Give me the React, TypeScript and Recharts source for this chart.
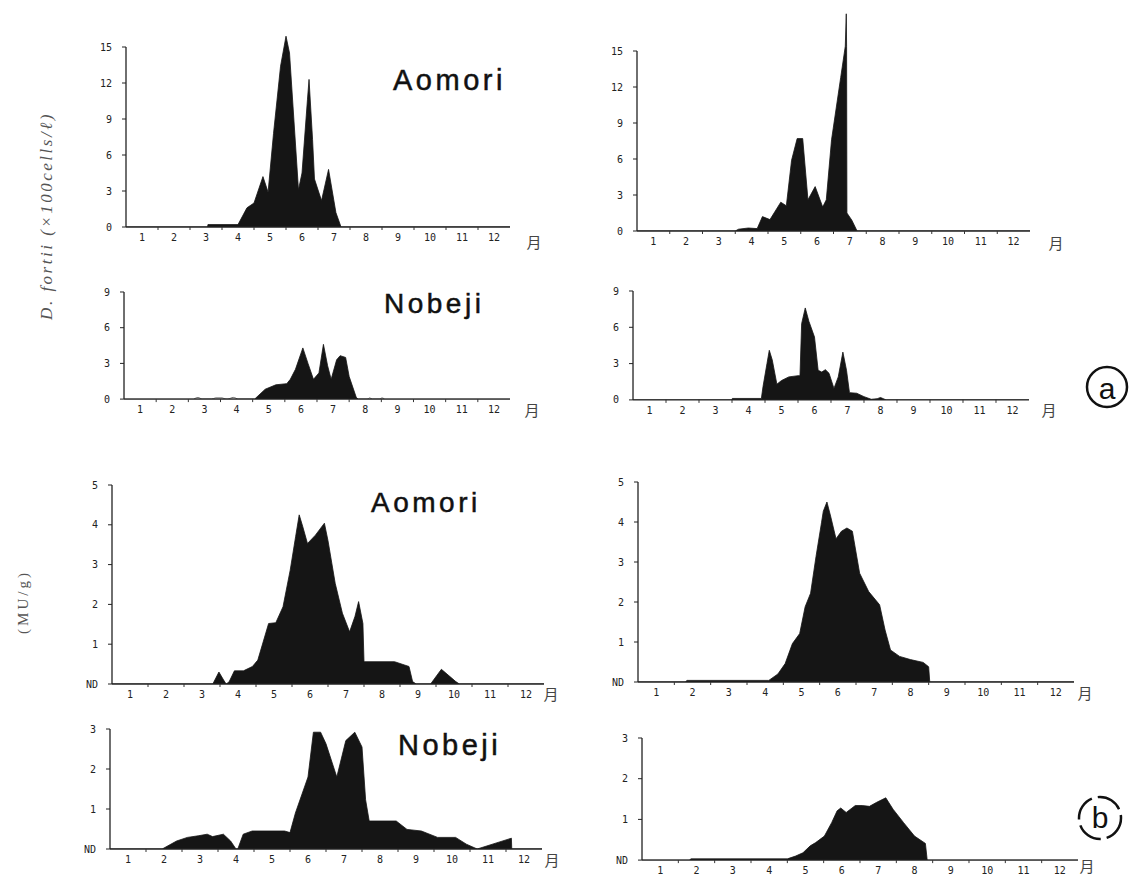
import React from 'react';
import { AreaChart, Area, XAxis, YAxis, ReferenceLine } from 'recharts';

// ---------- tick labels ----------
const monthLabels = ['1', '2', '3', '4', '5', '6', '7', '8', '9', '10', '11', '12'];
const cellTicksLarge = [0, 3, 6, 9, 12, 15];
const cellTicksSmall = [0, 3, 6, 9];
const toxTicks5 = [0, 1, 2, 3, 4, 5];
const toxTicks3 = [0, 1, 2, 3];

// ---------- (a) D. fortii cell density (x100 cells / l) ----------
// x = month position (label "m" sits at m), y = value
const aomoriCellsLeftX = [0.5, 3.05, 3.06, 4.0, 4.28, 4.5, 4.78, 4.94, 5.11, 5.33, 5.5, 5.61, 5.89, 6.0, 6.17, 6.22, 6.33, 6.39, 6.61, 6.83, 7.06, 7.22, 12.5];
const aomoriCellsLeftY = [0, 0, 0.2, 0.2, 1.6, 2.0, 4.2, 2.9, 7.8, 13.4, 15.9, 14.5, 3.1, 4.5, 10.6, 12.3, 7.3, 4.0, 2.2, 4.8, 1.2, 0, 0];

const aomoriCellsRightX = [0.5, 3.5, 3.6, 3.9, 4.17, 4.33, 4.56, 4.89, 5.06, 5.22, 5.39, 5.56, 5.72, 5.94, 6.17, 6.28, 6.44, 6.72, 6.86, 6.89, 6.9, 6.91, 7.06, 7.22, 12.5];
const aomoriCellsRightY = [0, 0, 0.15, 0.25, 0.2, 1.2, 0.95, 2.4, 2.1, 5.9, 7.7, 7.7, 2.6, 3.7, 2.0, 2.6, 7.6, 12.8, 15.4, 18.1, 15.4, 1.5, 0.9, 0, 0];

const nobejiCellsLeftX = [0.5, 4.56, 4.89, 5.22, 5.56, 5.67, 5.83, 6.06, 6.22, 6.39, 6.56, 6.7, 6.83, 6.94, 7.11, 7.22, 7.39, 7.5, 7.72, 7.78, 12.5];
const nobejiCellsLeftY = [0, 0, 0.83, 1.2, 1.3, 1.66, 2.5, 4.3, 3.0, 1.66, 2.2, 4.6, 2.8, 1.66, 3.3, 3.65, 3.5, 1.9, 0.15, 0, 0];
// faint open outlines near zero
const nobejiTraceX = [2.67, 2.8, 2.94, 3.22, 3.35, 3.55, 3.67, 3.72, 3.9, 4.06, 8.06, 8.14, 8.22, 8.44, 8.52, 8.6];
const nobejiTraceY = [0, 0.13, 0, 0, 0.1, 0.1, 0, 0, 0.14, 0, 0, 0.1, 0, 0, 0.1, 0];

const nobejiCellsRightX = [0.5, 3.5, 3.51, 4.39, 4.44, 4.56, 4.63, 4.72, 4.86, 5.0, 5.22, 5.5, 5.56, 5.61, 5.72, 5.83, 6.0, 6.11, 6.22, 6.33, 6.44, 6.59, 6.72, 6.86, 6.97, 7.06, 7.28, 7.5, 7.72, 7.9, 8.0, 8.17, 12.5];
const nobejiCellsRightY = [0, 0, 0.12, 0.12, 1.1, 3.0, 4.1, 3.3, 1.3, 1.6, 1.9, 2.0, 2.0, 6.3, 7.6, 6.5, 5.2, 2.45, 2.3, 2.5, 2.2, 0.95, 1.9, 3.95, 2.45, 0.6, 0.55, 0.27, 0.05, 0.1, 0.2, 0, 0];

// ---------- (b) toxicity (MU/g) ----------
const aomoriToxLeftX = [0.5, 3.3, 3.47, 3.6, 3.67, 3.75, 3.9, 4.15, 4.4, 4.55, 4.85, 5.05, 5.25, 5.45, 5.6, 5.7, 5.8, 5.93, 6.15, 6.4, 6.5, 6.7, 6.9, 7.1, 7.25, 7.35, 7.47, 7.5, 8.35, 8.75, 8.85, 8.95, 9.35, 9.65, 10.05, 10.15, 12.5];
const aomoriToxLeftY = [0, 0, 0.3, 0.1, 0, 0.05, 0.33, 0.33, 0.44, 0.6, 1.52, 1.54, 1.94, 2.86, 3.7, 4.25, 3.95, 3.53, 3.74, 4.04, 3.6, 2.53, 1.78, 1.31, 1.7, 2.07, 1.52, 0.56, 0.56, 0.44, 0.06, 0, 0, 0.37, 0.06, 0, 0];

const aomoriToxRightX = [0.5, 1.8, 1.85, 4.1, 4.35, 4.55, 4.75, 4.95, 5.1, 5.25, 5.4, 5.55, 5.6, 5.7, 5.8, 5.95, 6.1, 6.25, 6.4, 6.6, 6.85, 7.15, 7.3, 7.45, 7.7, 8.0, 8.35, 8.5, 8.53, 12.5];
const aomoriToxRightY = [0, 0, 0.04, 0.04, 0.2, 0.46, 0.96, 1.21, 1.88, 2.22, 3.14, 3.98, 4.27, 4.5, 4.15, 3.58, 3.77, 3.85, 3.77, 2.72, 2.26, 1.93, 1.3, 0.8, 0.64, 0.56, 0.49, 0.38, 0, 0];

const nobejiToxLeftX = [0.5, 1.95, 2.35, 2.65, 2.95, 3.2, 3.35, 3.65, 3.85, 4.0, 4.05, 4.2, 4.45, 5.35, 5.5, 5.65, 6.0, 6.15, 6.35, 6.5, 6.8, 7.05, 7.3, 7.5, 7.6, 7.7, 8.45, 8.75, 9.15, 9.6, 10.1, 10.4, 10.7, 11.65, 11.66, 12.5];
const nobejiToxLeftY = [0, 0, 0.2, 0.29, 0.33, 0.37, 0.31, 0.37, 0.2, 0, 0, 0.37, 0.45, 0.45, 0.41, 0.9, 1.8, 2.92, 2.92, 2.63, 1.8, 2.71, 2.92, 2.55, 1.23, 0.7, 0.7, 0.49, 0.45, 0.29, 0.29, 0.12, 0, 0.27, 0, 0];

const nobejiToxRightX = [0.5, 1.8, 1.85, 4.5, 4.73, 4.93, 5.13, 5.28, 5.52, 5.72, 5.87, 5.97, 6.12, 6.37, 6.56, 6.76, 6.96, 7.21, 7.41, 7.7, 8.0, 8.3, 8.35, 12.5];
const nobejiToxRightY = [0, 0, 0.03, 0.03, 0.1, 0.18, 0.35, 0.43, 0.59, 0.92, 1.21, 1.28, 1.17, 1.34, 1.34, 1.32, 1.42, 1.53, 1.25, 0.92, 0.59, 0.41, 0, 0];

// ---------- helpers ----------
type Pt = { m: number; v: number | null; t: number | null };

function buildData(xs: number[], ys: number[], tx?: number[], ty?: number[]): Pt[] {
  const map = new Map<number, Pt>();
  xs.forEach((x, i) => {
    map.set(x, { m: x, v: ys[i], t: null });
  });
  if (tx && ty) {
    tx.forEach((x, i) => {
      const e = map.get(x);
      if (e) e.t = ty[i];
      else map.set(x, { m: x, v: null, t: ty[i] });
    });
  }
  return Array.from(map.values()).sort((a, b) => a.m - b.m);
}

const xTicks: number[] = [];
for (let i = 1; i <= 12; i++) xTicks.push(i);
for (let i = 1; i < 12; i++) xTicks.push(i + 0.5);
xTicks.sort((a, b) => a - b);

const TICK_FONT = '"DejaVu Sans Mono", monospace';
const INK = '#151515';

const MonthTick = (props: any) => {
  const { x, y, payload } = props;
  const v = payload.value as number;
  if (Number.isInteger(v)) {
    return (
      <text x={x} y={y + 14} textAnchor="middle" fontSize={10} fontFamily={TICK_FONT} fill="#222">
        {monthLabels[v - 1]}
      </text>
    );
  }
  return <line x1={x} x2={x} y1={y} y2={y + 3} stroke="#333" strokeWidth={1} />;
};

type PanelCfg = {
  key: string;
  data: Pt[];
  ticks: number[];
  tickTop: number;
  domainMax: number;
  axisX: number;
  len: number;
  baseline: number;
  unit: number;
  nd: boolean;
  trace?: boolean;
};

const panels: PanelCfg[] = [
  { key: 'p1', data: buildData(aomoriCellsLeftX, aomoriCellsLeftY), ticks: cellTicksLarge, tickTop: 15, domainMax: 16.5, axisX: 126, len: 384, baseline: 227, unit: 12.0, nd: false },
  { key: 'p2', data: buildData(aomoriCellsRightX, aomoriCellsRightY), ticks: cellTicksLarge, tickTop: 15, domainMax: 18.5, axisX: 637, len: 393, baseline: 231, unit: 12.0, nd: false },
  { key: 'p3', data: buildData(nobejiCellsLeftX, nobejiCellsLeftY, nobejiTraceX, nobejiTraceY), ticks: cellTicksSmall, tickTop: 9, domainMax: 9, axisX: 124, len: 386, baseline: 399, unit: 11.9, nd: false, trace: true },
  { key: 'p4', data: buildData(nobejiCellsRightX, nobejiCellsRightY), ticks: cellTicksSmall, tickTop: 9, domainMax: 9, axisX: 633, len: 396, baseline: 400, unit: 12.1, nd: false },
  { key: 'p5', data: buildData(aomoriToxLeftX, aomoriToxLeftY), ticks: toxTicks5, tickTop: 5, domainMax: 5, axisX: 112, len: 432, baseline: 684, unit: 39.8, nd: true },
  { key: 'p6', data: buildData(aomoriToxRightX, aomoriToxRightY), ticks: toxTicks5, tickTop: 5, domainMax: 5, axisX: 638, len: 436, baseline: 682, unit: 40.0, nd: true },
  { key: 'p7', data: buildData(nobejiToxLeftX, nobejiToxLeftY), ticks: toxTicks3, tickTop: 3, domainMax: 3, axisX: 110, len: 432, baseline: 849, unit: 40.0, nd: true },
  { key: 'p8', data: buildData(nobejiToxRightX, nobejiToxRightY), ticks: toxTicks3, tickTop: 3, domainMax: 3, axisX: 642, len: 436, baseline: 860, unit: 40.7, nd: true },
];

const YW = 60;
const XH = 30;
const MT = 10;

function Panel({ p }: { p: PanelCfg }) {
  const plotH = p.domainMax * p.unit;
  const width = YW + p.len + 4;
  const height = plotH + XH + MT;
  return (
    <div style={{ position: 'absolute', left: p.axisX - YW, top: p.baseline - plotH - MT }}>
      <AreaChart width={width} height={height} data={p.data} margin={{ top: MT, right: 4, bottom: 0, left: 0 }}>
        <XAxis
          type="number"
          dataKey="m"
          domain={[0.5, 12.5]}
          allowDataOverflow
          ticks={xTicks}
          interval={0}
          tickLine={false}
          tickSize={0}
          tickMargin={0}
          height={XH}
          tick={<MonthTick />}
          axisLine={{ stroke: '#222', strokeWidth: 1.3 }}
        />
        <YAxis
          type="number"
          domain={[0, p.domainMax]}
          allowDataOverflow
          ticks={p.ticks}
          interval={0}
          width={YW}
          axisLine={false}
          tickSize={4}
          tickMargin={10}
          tickLine={{ stroke: '#222' }}
          tick={{ fontSize: 10, fontFamily: TICK_FONT, fill: '#222' }}
          tickFormatter={(v: number) => (p.nd && v === 0 ? 'ND' : String(v))}
        />
        <ReferenceLine
          segment={[
            { x: 0.5, y: 0 },
            { x: 0.5, y: p.tickTop },
          ]}
          stroke="#222"
          strokeWidth={1.3}
        />
        {p.trace && (
          <Area
            type="monotone"
            dataKey="t"
            connectNulls
            stroke="#444"
            strokeWidth={0.8}
            fill="#fff"
            fillOpacity={1}
            isAnimationActive={false}
            dot={false}
            activeDot={false}
          />
        )}
        <Area
          type="linear"
          dataKey="v"
          connectNulls
          stroke={INK}
          strokeWidth={0.8}
          fill={INK}
          fillOpacity={1}
          isAnimationActive={false}
          dot={false}
          activeDot={false}
        />
      </AreaChart>
    </div>
  );
}

const stationTitles = [
  { text: 'Aomori', x: 393, y: 90, size: 29 },
  { text: 'Nobeji', x: 384, y: 313, size: 28 },
  { text: 'Aomori', x: 371, y: 512, size: 28 },
  { text: 'Nobeji', x: 398, y: 755, size: 29 },
];

const monthMarks = [
  [534, 241],
  [1056, 242],
  [532, 409],
  [1049, 409],
  [551, 693],
  [1085, 692],
  [552, 859],
  [1087, 865],
];

export default function App() {
  return (
    <div style={{ position: 'absolute', left: 0, top: 0, width: 1130, height: 877, background: '#fff', overflow: 'hidden' }}>
      {panels.map((p) => (
        <Panel key={p.key} p={p} />
      ))}
      <svg width={1130} height={877} style={{ position: 'absolute', left: 0, top: 0, pointerEvents: 'none' }}>
        {stationTitles.map((t, i) => (
          <text
            key={i}
            x={t.x}
            y={t.y}
            fontSize={t.size}
            fontFamily='"Liberation Sans", Arial, sans-serif'
            letterSpacing={3.5}
            fill="#111"
            stroke="#111"
            strokeWidth={0.5}
          >
            {t.text}
          </text>
        ))}
        {monthMarks.map(([x, y], i) => (
          <text key={i} x={x} y={y} fontSize={15} fontFamily='"Noto Sans CJK JP", sans-serif' fill="#444" textAnchor="middle" dominantBaseline="central">
            月
          </text>
        ))}
        <text
          x={46}
          y={216}
          transform="rotate(-90 46 216)"
          textAnchor="middle"
          dominantBaseline="central"
          fontSize={17}
          fontStyle="italic"
          fontFamily='"Liberation Serif", "DejaVu Serif", serif'
          letterSpacing={2.5}
          fill="#555"
        >
          D. fortii (×100cells/ℓ)
        </text>
        <text
          x={23}
          y={602}
          transform="rotate(-90 23 602)"
          textAnchor="middle"
          dominantBaseline="central"
          fontSize={15}
          fontFamily='"Liberation Serif", "DejaVu Serif", serif'
          letterSpacing={3}
          fill="#555"
        >
          (MU/g)
        </text>
        <circle cx={1107} cy={387} r={20} fill="none" stroke="#111" strokeWidth={2.5} />
        <text x={1107} y={388} fontSize={30} fontFamily='"Liberation Sans", Arial, sans-serif' textAnchor="middle" dominantBaseline="central" fill="#111">
          a
        </text>
        <circle cx={1100} cy={818} r={21} fill="none" stroke="#111" strokeWidth={2.5} strokeDasharray="26 6" />
        <text x={1100} y={817} fontSize={30} fontFamily='"Liberation Sans", Arial, sans-serif' textAnchor="middle" dominantBaseline="central" fill="#111">
          b
        </text>
      </svg>
    </div>
  );
}
